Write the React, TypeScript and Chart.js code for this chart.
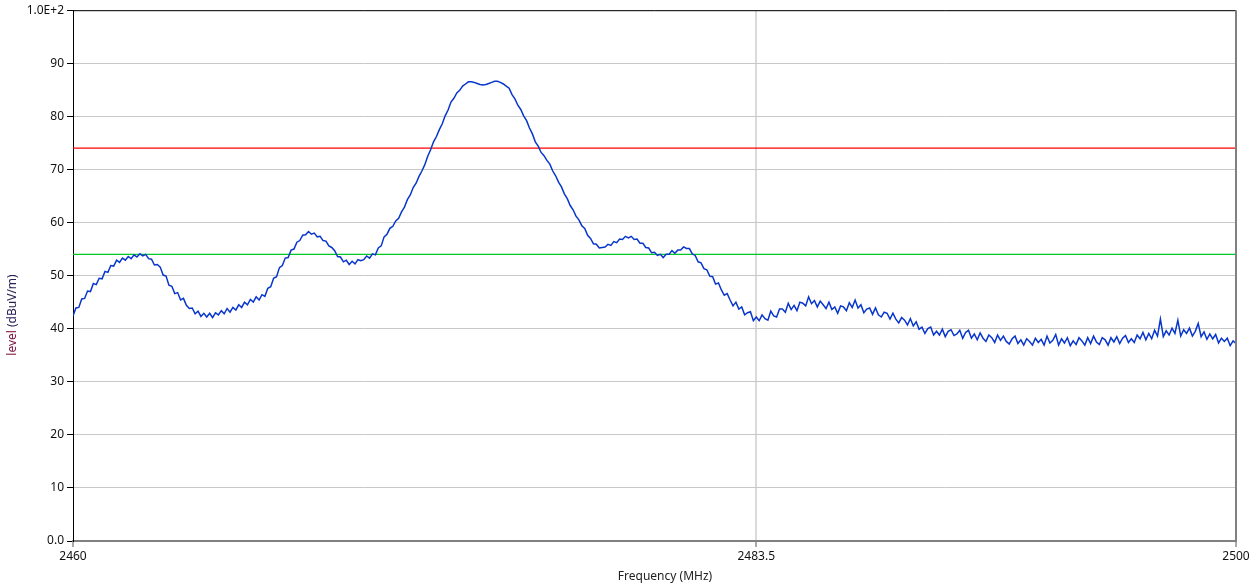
import { useEffect, useRef } from "react";
import { Chart, registerables } from "chart.js";

Chart.register(...registerables);

// Sweep grid: 2460 MHz to 2500 MHz, 0.1 MHz per sample
const FREQ_START = 2460;
const FREQ_STEP = 0.1;

// Measured field strength, dBuV/m, one row per MHz
const levelTrace: number[] = [
  42.4, 43.9, 44.0, 45.6, 45.7, 47.1, 47.0, 48.5, 48.3, 49.5,
  49.4, 50.8, 50.6, 51.9, 51.8, 52.9, 52.5, 53.3, 52.9, 53.6,
  53.2, 53.9, 53.5, 54.1, 53.7, 54.0, 53.2, 53.1, 52.0, 52.1,
  51.6, 50.1, 49.9, 48.2, 48.0, 46.6, 46.8, 45.4, 45.7, 44.4,
  43.8, 43.9, 42.8, 43.3, 42.3, 42.9, 42.2, 42.9, 42.1, 43.0,
  42.6, 43.4, 42.8, 43.8, 43.1, 44.0, 43.5, 44.5, 44.0, 45.0,
  44.5, 45.5, 45.0, 46.0, 45.4, 46.4, 46.1, 47.6, 47.9, 49.5,
  49.8, 51.5, 51.9, 53.3, 53.4, 54.8, 55.0, 56.3, 56.6, 57.6,
  57.7, 58.3, 57.8, 58.0, 57.3, 57.4, 56.6, 56.5, 55.6, 55.3,
  54.7, 53.6, 53.5, 52.6, 52.9, 52.1, 52.7, 52.2, 53.0, 52.8,
  53.0, 53.7, 53.3, 54.1, 53.9, 55.2, 55.6, 57.3, 57.8, 58.9,
  59.3, 60.3, 60.8, 62.0, 62.9, 64.3, 65.2, 66.6, 67.4, 68.7,
  69.7, 70.9, 72.5, 73.7, 75.2, 76.2, 77.5, 78.6, 80.1, 81.2,
  82.7, 83.4, 84.4, 84.9, 85.7, 86.1, 86.5, 86.5, 86.4, 86.2,
  86.0, 85.9, 86.0, 86.2, 86.4, 86.6, 86.6, 86.4, 86.1, 85.7,
  85.3, 84.1, 83.3, 82.1, 81.3, 80.1, 79.2, 77.8, 76.7, 75.2,
  74.4, 73.2, 72.6, 71.7, 71.0, 69.7, 68.8, 67.6, 66.7, 65.4,
  64.5, 63.2, 62.4, 61.2, 60.5, 59.4, 58.9, 57.6, 57.0, 56.0,
  55.9, 55.2, 55.3, 55.4, 55.9, 55.7, 56.4, 56.2, 56.9, 56.8,
  57.4, 57.1, 57.4, 56.8, 56.9, 56.1, 56.1, 55.3, 55.2, 54.3,
  54.4, 53.8, 54.0, 53.4, 54.0, 54.0, 54.7, 54.2, 54.8, 54.8,
  55.4, 55.1, 55.1, 54.1, 53.8, 52.6, 52.4, 51.3, 51.1, 49.9,
  49.8, 48.4, 48.6, 47.3, 46.3, 46.6, 45.4, 44.3, 45.0, 43.7,
  44.1, 42.6, 43.0, 43.2, 41.5, 42.2, 41.5, 42.6, 41.9, 41.6,
  43.3, 42.4, 42.2, 43.7, 43.7, 43.1, 44.8, 43.6, 44.4, 43.4,
  45.0, 44.8, 44.3, 46.0, 44.7, 45.3, 44.1, 45.2, 44.5, 43.8,
  45.0, 43.6, 44.1, 42.9, 44.3, 44.1, 43.4, 44.9, 44.0, 45.4,
  43.9, 44.5, 43.0, 43.7, 43.9, 42.7, 43.9, 42.6, 42.2, 43.1,
  42.9, 41.8, 42.9, 41.8, 41.1, 42.1, 41.6, 40.7, 41.9, 40.5,
  41.3, 39.9, 40.3, 39.1, 40.0, 40.3, 38.8, 39.5, 38.8, 39.9,
  38.5, 39.5, 39.8, 38.7, 39.0, 39.7, 38.2, 39.3, 39.7, 38.2,
  39.0, 37.9, 39.2, 38.2, 37.6, 38.8, 38.3, 37.4, 38.8, 37.8,
  38.6, 37.6, 37.1, 38.1, 38.6, 37.2, 37.9, 36.9, 38.1, 37.6,
  36.9, 38.2, 37.4, 38.0, 36.9, 38.6, 37.3, 37.8, 38.9, 36.9,
  38.1, 37.3, 38.3, 36.8, 37.7, 37.0, 38.3, 37.7, 36.9, 38.3,
  37.2, 38.6, 37.5, 37.0, 38.3, 37.9, 36.9, 38.3, 37.5, 38.5,
  37.2, 38.2, 38.7, 37.4, 38.1, 37.4, 38.8, 38.1, 39.3, 37.9,
  39.1, 38.1, 39.7, 38.6, 41.8, 38.5, 39.6, 38.8, 40.1, 39.1,
  41.6, 38.6, 39.8, 39.1, 40.1, 38.6, 39.5, 41.0, 38.5, 39.4,
  38.0, 39.0, 38.1, 38.9, 37.3, 38.2, 37.6, 38.2, 36.8, 37.7,
  37.2,
];

// Limit lines, dBuV/m
const peakLimit = 74;
const averageLimit = 54;

// Axis ticks
const freqTicks = [2460, 2483.5, 2500];
const levelTicks = [0, 10, 20, 30, 40, 50, 60, 70, 80, 90, 100];
const bandEdge = 2483.5;

const FONT = "'Noto Sans', 'DejaVu Sans', sans-serif";

const framePlugin = {
  id: "frame",
  afterDraw(chart: any) {
    const { ctx, chartArea } = chart;
    const { left, right, top, bottom } = chartArea;
    ctx.save();
    // top and right edges of the plot frame
    ctx.strokeStyle = "#000000";
    ctx.lineWidth = 1;
    ctx.beginPath();
    ctx.moveTo(left, top + 0.5);
    ctx.lineTo(right, top + 0.5);
    ctx.stroke();
    ctx.strokeStyle = "#808080";
    ctx.lineWidth = 2;
    ctx.beginPath();
    ctx.moveTo(right, top);
    ctx.lineTo(right, bottom);
    ctx.stroke();

    // axis titles
    ctx.font = `12px ${FONT}`;
    ctx.textBaseline = "middle";
    ctx.save();
    ctx.translate(13, 315);
    ctx.rotate(-Math.PI / 2);
    const part1 = "level ";
    const part2 = "(dBuV/m)";
    const w1 = ctx.measureText(part1).width;
    const w2 = ctx.measureText(part2).width;
    const startX = -(w1 + w2) / 2;
    ctx.textAlign = "left";
    ctx.fillStyle = "#7a1038";
    ctx.fillText(part1, startX, 0);
    ctx.fillStyle = "#2a2050";
    ctx.fillText(part2, startX + w1, 0);
    ctx.restore();

    ctx.fillStyle = "#222222";
    ctx.textAlign = "center";
    ctx.fillText("Frequency (MHz)", 665, 577);
    ctx.restore();
  },
};

export default function App() {
  const canvasRef = useRef<HTMLCanvasElement | null>(null);

  useEffect(() => {
    const canvas = canvasRef.current;
    if (!canvas) return;

    const tracePoints = levelTrace.map((v, i) => ({
      x: FREQ_START + i * FREQ_STEP,
      y: v,
    }));
    const fMin = freqTicks[0];
    const fMax = freqTicks[freqTicks.length - 1];

    const chart = new Chart(canvas, {
      type: "line",
      data: {
        datasets: [
          {
            data: tracePoints,
            borderColor: "#0836cc",
            borderWidth: 1.5,
            pointRadius: 0,
            tension: 0,
          },
          {
            data: [
              { x: fMin, y: peakLimit },
              { x: fMax, y: peakLimit },
            ],
            borderColor: "#ff0000",
            borderWidth: 1.2,
            pointRadius: 0,
          },
          {
            data: [
              { x: fMin, y: averageLimit },
              { x: fMax, y: averageLimit },
            ],
            borderColor: "#00c82a",
            borderWidth: 1.2,
            pointRadius: 0,
          },
        ],
      },
      options: {
        animation: false,
        responsive: false,
        devicePixelRatio: 1,
        layout: { padding: { left: 0, top: 10, right: 20, bottom: 0 } },
        plugins: {
          legend: { display: false },
          tooltip: { enabled: false },
        },
        scales: {
          x: {
            type: "linear",
            min: fMin,
            max: fMax,
            afterBuildTicks: (scale: any) => {
              scale.ticks = freqTicks.map((v) => ({ value: v }));
            },
            afterFit: (scale: any) => {
              scale.height = 47;
            },
            ticks: {
              autoSkip: false,
              maxRotation: 0,
              padding: 2,
              color: "#111111",
              font: { family: FONT, size: 12 },
              callback: (v: any) => String(v),
            },
            grid: {
              color: (ctx: any) =>
                ctx.tick && ctx.tick.value === bandEdge ? "#dadada" : "rgba(0,0,0,0)",
              lineWidth: 2,
              tickLength: 6,
              tickColor: "#555555",
              tickWidth: 1,
            },
            border: { color: "#808080", width: 2 },
          },
          y: {
            type: "linear",
            min: levelTicks[0],
            max: levelTicks[levelTicks.length - 1],
            afterBuildTicks: (scale: any) => {
              scale.ticks = levelTicks.map((v) => ({ value: v }));
            },
            afterFit: (scale: any) => {
              scale.width = 73;
            },
            ticks: {
              padding: 3,
              color: "#111111",
              font: { family: FONT, size: 12 },
              callback: (v: any) =>
                v === 0 ? "0.0" : v === 100 ? "1.0E+2" : String(v),
            },
            grid: {
              color: "#c8c8c8",
              lineWidth: 1,
              tickLength: 6,
              tickColor: "#000000",
            },
            border: { color: "#000000", width: 1 },
          },
        },
      },
      plugins: [framePlugin],
    });

    return () => {
      chart.destroy();
    };
  }, []);

  return (
    <div
      style={{
        position: "fixed",
        left: 0,
        top: 0,
        width: 1256,
        height: 588,
        background: "#ffffff",
      }}
    >
      <canvas ref={canvasRef} width={1256} height={588} />
    </div>
  );
}
